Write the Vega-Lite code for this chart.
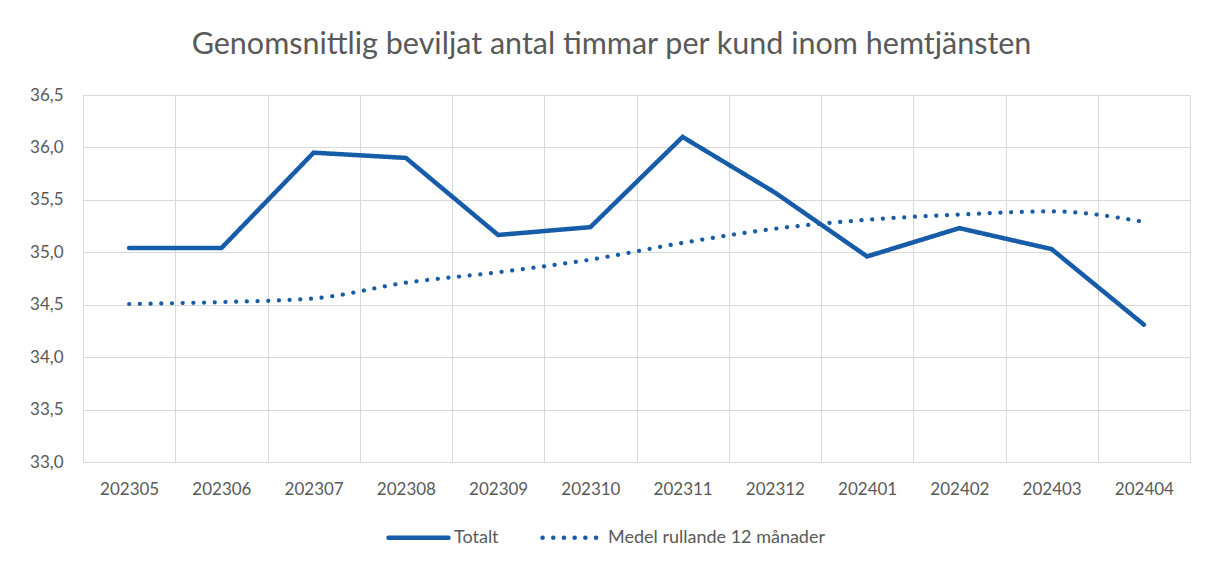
{
  "$schema": "https://vega.github.io/schema/vega-lite/v6.json",
  "width": 1107,
  "height": 367,
  "autosize": {"type": "none"},
  "padding": {"left": 83, "top": 95, "right": 16, "bottom": 100},
  "background": "white",
  "title": {
    "text": "Genomsnittlig beviljat antal timmar per kund inom hemtjänsten",
    "anchor": "middle",
    "frame": "group",
    "dx": -25,
    "offset": 26,
    "font": "Lato",
    "fontSize": 30.5,
    "fontWeight": "normal",
    "color": "#595959"
  },
  "data": {
    "values": [
      {"manad": "202305", "serie": "Totalt", "varde": 35.04},
      {"manad": "202306", "serie": "Totalt", "varde": 35.04},
      {"manad": "202307", "serie": "Totalt", "varde": 35.95},
      {"manad": "202308", "serie": "Totalt", "varde": 35.9},
      {"manad": "202309", "serie": "Totalt", "varde": 35.165},
      {"manad": "202310", "serie": "Totalt", "varde": 35.24},
      {"manad": "202311", "serie": "Totalt", "varde": 36.1},
      {"manad": "202312", "serie": "Totalt", "varde": 35.57},
      {"manad": "202401", "serie": "Totalt", "varde": 34.96},
      {"manad": "202402", "serie": "Totalt", "varde": 35.23},
      {"manad": "202403", "serie": "Totalt", "varde": 35.03},
      {"manad": "202404", "serie": "Totalt", "varde": 34.31},
      {"manad": "202305", "serie": "Medel rullande 12 månader", "varde": 34.507},
      {"manad": "202306", "serie": "Medel rullande 12 månader", "varde": 34.525},
      {"manad": "202307", "serie": "Medel rullande 12 månader", "varde": 34.56},
      {"manad": "202308", "serie": "Medel rullande 12 månader", "varde": 34.71},
      {"manad": "202309", "serie": "Medel rullande 12 månader", "varde": 34.81},
      {"manad": "202310", "serie": "Medel rullande 12 månader", "varde": 34.93},
      {"manad": "202311", "serie": "Medel rullande 12 månader", "varde": 35.09},
      {"manad": "202312", "serie": "Medel rullande 12 månader", "varde": 35.225},
      {"manad": "202401", "serie": "Medel rullande 12 månader", "varde": 35.31},
      {"manad": "202402", "serie": "Medel rullande 12 månader", "varde": 35.36},
      {"manad": "202403", "serie": "Medel rullande 12 månader", "varde": 35.39},
      {"manad": "202404", "serie": "Medel rullande 12 månader", "varde": 35.29}
    ]
  },
  "encoding": {
    "x": {
      "field": "manad",
      "type": "ordinal",
      "bandPosition": 0.5,
      "scale": {"type": "band", "paddingInner": 0, "paddingOuter": 0},
      "axis": {
        "title": null,
        "labelAngle": 0,
        "grid": true,
        "tickBand": "extent",
        "ticks": false,
        "domain": false,
        "labelPadding": 19,
        "labelBaseline": "top"
      }
    },
    "y": {
      "field": "varde",
      "type": "quantitative",
      "scale": {"domain": [33, 36.5], "zero": false, "nice": false},
      "axis": {
        "title": null,
        "values": [33, 33.5, 34, 34.5, 35, 35.5, 36, 36.5],
        "labelExpr": "replace(format(datum.value, '.1f'), '.', ',')",
        "grid": true,
        "ticks": false,
        "domain": false,
        "labelPadding": 20
      }
    },
    "strokeDash": {
      "field": "serie",
      "type": "nominal",
      "sort": ["Totalt", "Medel rullande 12 månader"],
      "scale": {
        "domain": ["Totalt", "Medel rullande 12 månader"],
        "range": [[1, 0], [0.1, 10.6]]
      },
      "legend": {
        "title": null,
        "orient": "none",
        "direction": "horizontal",
        "legendX": 303,
        "legendY": 410,
        "symbolType": "stroke",
        "symbolSize": 3600,
        "symbolStrokeWidth": 4.5,
        "symbolStrokeColor": "#175CA8",
        "labelOffset": 3,
        "columnPadding": 34,
        "labelFont": "Lato",
        "labelFontSize": 18,
        "labelColor": "#595959",
        "labelLimit": 400,
        "encode": {"symbols": {"update": {"strokeCap": {"value": "round"}}}}
      }
    }
  },
  "layer": [
    {
      "transform": [{"filter": "datum.serie === 'Totalt'"}],
      "mark": {"type": "line", "color": "#175CA8", "strokeWidth": 4.5, "strokeCap": "round"}
    },
    {
      "transform": [{"filter": "datum.serie !== 'Totalt'"}],
      "mark": {"type": "line", "color": "#175CA8", "strokeWidth": 4.2, "strokeCap": "round", "interpolate": "monotone"}
    }
  ],
  "config": {
    "view": {"stroke": "#d9d9d9", "strokeWidth": 1},
    "axis": {
      "gridColor": "#d9d9d9",
      "gridWidth": 1,
      "labelFont": "Lato",
      "labelFontSize": 17,
      "labelColor": "#595959"
    }
  }
}
